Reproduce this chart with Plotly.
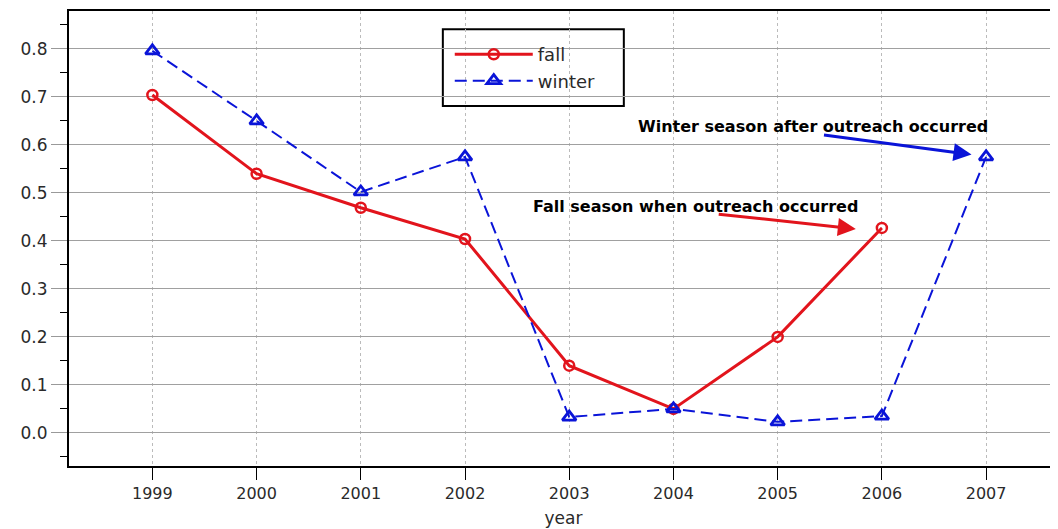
import plotly.graph_objects as go

years = [1999, 2000, 2001, 2002, 2003, 2004, 2005, 2006, 2007]
fall_years = [1999, 2000, 2001, 2002, 2003, 2004, 2005, 2006]
fall = [0.704, 0.540, 0.469, 0.404, 0.140, 0.050, 0.200, 0.427]
winter_years = [1999, 2000, 2001, 2002, 2003, 2004, 2005, 2006, 2007]
winter = [0.796, 0.650, 0.502, 0.575, 0.033, 0.050, 0.023, 0.035, 0.575]
y_ticks = [0.0, 0.1, 0.2, 0.3, 0.4, 0.5, 0.6, 0.7, 0.8]

RED = "#e2141c"
BLUE = "#0a14d8"
FONT = "DejaVu Sans, Liberation Sans, Arial, sans-serif"

fig = go.Figure()
fig.add_trace(go.Scatter(
    x=fall_years, y=fall, name="fall", mode="lines+markers",
    line=dict(color=RED, width=3),
    marker=dict(symbol="circle-open", size=10, color=RED, line=dict(width=2.5, color=RED)),
))
fig.add_trace(go.Scatter(
    x=winter_years, y=winter, name="winter", mode="lines+markers",
    line=dict(color=BLUE, width=2, dash="12px,6px"),
    marker=dict(symbol="triangle-up-open", size=12, color=BLUE, line=dict(width=2.8, color=BLUE)),
))

# legend box
fig.add_shape(type="rect", xref="paper", yref="paper",
              x0=0.378, x1=0.561, y0=0.791, y1=0.960,
              line=dict(color="black", width=2), fillcolor="white", layer="below")

# annotations: arrows
fig.add_annotation(x=2006.86, y=0.580, ax=2005.43, ay=0.621, xref="x", yref="y",
                   axref="x", ayref="y", text="", showarrow=True,
                   arrowhead=2, arrowsize=1.2, arrowwidth=3, arrowcolor=BLUE)
fig.add_annotation(x=2005.75, y=0.425, ax=2004.42, ay=0.456, xref="x", yref="y",
                   axref="x", ayref="y", text="", showarrow=True,
                   arrowhead=2, arrowsize=1.2, arrowwidth=3, arrowcolor=RED)
fig.add_annotation(x=2005.34, y=0.638, xref="x", yref="y", showarrow=False,
                   text="<b>Winter season after outreach occurred</b>",
                   font=dict(family=FONT, size=16, color="black"))
fig.add_annotation(x=2004.21, y=0.471, xref="x", yref="y", showarrow=False,
                   text="<b>Fall season when outreach occurred</b>",
                   font=dict(family=FONT, size=16, color="black"))

fig.update_layout(
    width=1050, height=521,
    margin=dict(l=61, r=0, t=3, b=63),
    paper_bgcolor="white", plot_bgcolor="white",
    font=dict(family=FONT, size=16, color="#2a2a2a"),
    showlegend=True,
    legend=dict(x=0.385, y=0.945, xanchor="left", yanchor="top",
                bgcolor="rgba(0,0,0,0)", borderwidth=0,
                font=dict(family=FONT, size=18, color="#2a2a2a"),
                itemwidth=78, tracegroupgap=0),
    xaxis=dict(
        range=[1998.2, 2007.69], tickmode="array", tickvals=years,
        ticktext=[str(y) for y in years],
        showline=True, linecolor="black", linewidth=2, mirror=True,
        ticks="outside", ticklen=12, tickcolor="black", tickwidth=1,
        showgrid=True, gridcolor="#bbbbbb", griddash="dot", gridwidth=1,
        zeroline=False,
        tickfont=dict(family=FONT, size=16, color="#2a2a2a"),
        title=dict(text="year", font=dict(family=FONT, size=17, color="#2a2a2a"), standoff=10),
    ),
    yaxis=dict(
        range=[-0.069, 0.879], tickmode="array", tickvals=y_ticks,
        ticktext=[f"{v:.1f}" for v in y_ticks],
        showline=True, linecolor="black", linewidth=2,
        ticks="outside", ticklen=16, tickcolor="#999999", tickwidth=1,
        showgrid=True, gridcolor="#a0a0a0", gridwidth=1, zeroline=False,
        tickfont=dict(family=FONT, size=17, color="#2a2a2a"),
        minor=dict(tickmode="linear", tick0=0.05, dtick=0.1, ticks="outside",
                   ticklen=7, tickcolor="black", showgrid=False),
    ),
)

fig.write_html("out.html")
